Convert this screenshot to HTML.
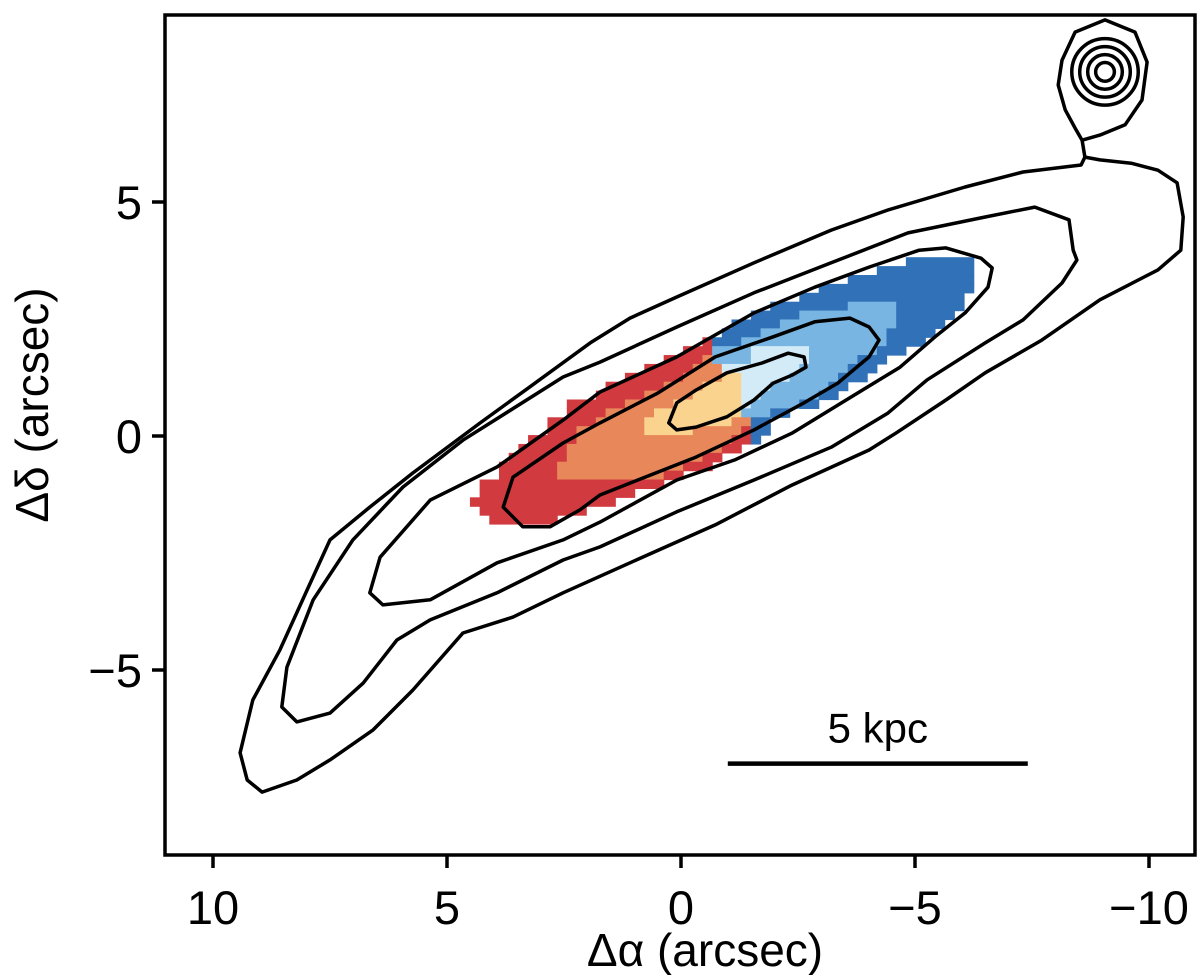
<!DOCTYPE html>
<html><head><meta charset="utf-8"><style>
html,body{margin:0;padding:0;background:#fff;}
svg{display:block;font-family:"Liberation Sans","DejaVu Sans",sans-serif;}
</style></head><body>
<svg id="chart" width="1200" height="975" viewBox="0 0 1200 975" xmlns="http://www.w3.org/2000/svg">
<g id="cells"></g>
<g id="contours" fill="none" stroke="#000" stroke-width="3.5" stroke-linejoin="round"></g>
<g id="axes"></g>
</svg>
<script>
const xTicks = [10, 5, 0, -5, -10];
const yTicks = [5, 0, -5];
const xTickLabels = ["10", "5", "0", "\u22125", "\u221210"];
const yTickLabels = ["5", "0", "\u22125"];
// velocity grid: origin (arcsec), cell size, rows top->bottom, segments "ColorStart-End"
const gridOrigin = [4.51, 3.82];
const gridCellX = 0.207;
const gridCellY = 0.19;
const gridRows = [
"D45-51","D42-51","D39-51","D36-51","D34-50",
"D31-38 M39-43 D44-50","D29-33 M34-43 D44-49","D27-31 M32-43 D44-48","D26-29 M30-42 D43-47",
"R24-24 D25-27 M28-42 D43-46","R22-24 M25-28 L29-34 M35-41 D42-44",
"R20-23 O24-24 M25-28 L29-34 M35-39 D40-42","R18-22 O23-25 L26-33 M34-38 D39-41",
"R16-21 O22-25 Y26-27 L28-32 M33-37 D38-40","R14-19 O20-23 Y24-27 L28-30 M31-36 D37-38",
"R13-17 O18-22 Y23-27 L28-29 M30-35 D36-37","R10-15 O16-20 Y21-27 L28-28 M29-33 D34-35",
"R10-13 O14-18 Y19-27 M28-30 D31-32","R8-12 O13-17 Y18-26 O27-28 D29-30",
"R8-10 O11-17 Y18-22 O23-27 R28-28 D29-30","R6-10 O11-26 R27-28 D29-29",
"R5-9 O10-25 R26-27","R4-9 O10-23 R24-25","R3-8 O9-21 R22-24","R3-8 O9-19 R20-21",
"R1-19","R1-16","R0-14","R1-11","R2-8"
];
const velColors = {R:"#d13b40",O:"#e8885a",Y:"#fad38e",L:"#d3ebf7",M:"#78b5e2",D:"#3071b8"};
// contour levels (arcsec [ra, dec])
const contour1 = [[8.95,-7.61],[9.27,-7.35],[9.42,-6.77],[9.15,-5.64],[8.57,-4.57],[7.99,-3.29],[7.50,-2.22],[6.65,-1.52],[5.73,-0.79],[4.29,0.28],[3.23,1.05],[1.94,1.99],[1.09,2.52],[0.09,2.97],[-1.56,3.70],[-3.21,4.40],[-4.42,4.83],[-6.07,5.32],[-7.31,5.64],[-8.55,5.79],[-8.63,5.96],[-8.95,5.90],[-9.62,5.83],[-10.19,5.68],[-10.60,5.41],[-10.73,4.68],[-10.68,3.97],[-10.19,3.55],[-8.95,2.91],[-7.71,2.05],[-6.50,1.35],[-5.66,0.77],[-4.59,0.06],[-4.02,-0.30],[-2.37,-1.05],[-0.73,-1.90],[1.09,-2.71],[2.52,-3.35],[3.59,-3.87],[4.66,-4.21],[5.73,-5.43],[6.58,-6.28],[7.50,-6.92],[8.21,-7.35]];
const contour2 = [[8.21,-6.11],[8.53,-5.79],[8.42,-4.94],[7.86,-3.50],[7.01,-2.22],[5.94,-1.09],[4.66,-0.09],[2.52,1.26],[1.73,1.58],[0.09,2.33],[-1.56,3.06],[-3.21,3.70],[-4.85,4.34],[-6.50,4.68],[-7.56,4.89],[-8.29,4.62],[-8.38,3.97],[-8.46,3.76],[-8.14,3.27],[-7.31,2.48],[-6.50,1.99],[-5.26,1.20],[-4.42,0.49],[-3.21,-0.24],[-1.56,-0.94],[0.09,-1.62],[1.73,-2.37],[2.52,-2.65],[3.93,-3.35],[5.36,-3.93],[6.07,-4.36],[6.79,-5.28],[7.50,-5.92]];
const contour3 = [[6.37,-3.61],[6.65,-3.35],[6.43,-2.59],[5.36,-1.37],[3.93,-0.66],[2.52,0.34],[1.73,0.94],[0.09,1.69],[-1.56,2.63],[-2.86,3.18],[-4.02,3.61],[-5.09,3.97],[-5.66,4.02],[-6.41,3.80],[-6.65,3.59],[-6.56,3.18],[-6.07,2.63],[-5.43,2.12],[-4.68,1.47],[-3.53,0.77],[-2.37,0.06],[-1.15,-0.51],[0.09,-0.94],[1.73,-1.84],[2.52,-2.22],[3.93,-2.71],[5.36,-3.50]];
const contour4 = [[3.38,-1.94],[3.80,-1.52],[3.59,-0.88],[2.52,-0.15],[1.73,0.28],[0.49,0.92],[-0.73,1.69],[-1.97,2.12],[-2.86,2.44],[-3.61,2.52],[-4.02,2.33],[-4.23,2.05],[-4.02,1.69],[-3.35,1.13],[-2.63,0.71],[-1.56,0.13],[-0.32,-0.45],[0.92,-0.94],[1.73,-1.26],[2.16,-1.58],[2.80,-1.94]];
const contour5 = [[0.26,0.28],[0.09,0.71],[-0.32,0.98],[-0.98,1.35],[-1.73,1.56],[-2.29,1.77],[-2.63,1.69],[-2.67,1.47],[-2.37,1.30],[-1.97,1.13],[-1.56,0.77],[-0.98,0.41],[-0.32,0.19],[0.09,0.13]];
const starOuter = [[-8.14,8.03],[-8.42,8.63],[-9.06,8.89],[-9.70,8.63],[-9.96,7.99],[-9.85,7.18],[-9.49,6.65],[-8.95,6.43],[-8.57,6.32],[-8.42,6.58],[-8.21,6.97],[-8.06,7.50]];
const starTail = [[-8.57,6.32],[-8.63,5.96]];
const starCenter = [-9.06, 7.78];
const starRadii = [0.2, 0.37, 0.54, 0.71];
const scaleBar = [-1.0, -7.41, -7.0];
const scaleLabel = "5 kpc";

const X0 = 681, Y0 = 436, PX = 46.8;
const sx = v => X0 - v * PX;
const sy = v => Y0 - v * PX;
const NS = "http://www.w3.org/2000/svg";
function mk(tag, parent, attrs){const e=document.createElementNS(NS,tag);for(const k in attrs)e.setAttribute(k,attrs[k]);parent.appendChild(e);return e;}

const cells = document.getElementById('cells');
gridRows.forEach((row, r) => {
  row.split(' ').forEach(seg => {
    const c = seg[0]; const [a,b] = seg.slice(1).split('-').map(Number);
    const x1 = sx(gridOrigin[0] - a*gridCellX), x2 = sx(gridOrigin[0] - (b+1)*gridCellX);
    const y1 = sy(gridOrigin[1] - r*gridCellY), y2 = sy(gridOrigin[1] - (r+1)*gridCellY);
    const el = mk('rect', cells, {x:x1, y:y1, width:x2-x1+0.6, height:y2-y1+0.6, fill:velColors[c]});
    
    
  });
});

const cg = document.getElementById('contours');
const pts = arr => arr.map(p => sx(p[0]).toFixed(1)+','+sy(p[1]).toFixed(1)).join(' ');
[contour1,contour2,contour3,contour4,contour5,starOuter].forEach((c,i) => {
  const el = mk('polygon', cg, {points: pts(c)});
  
  
});
const tail = mk('polyline', cg, {points: pts(starTail)});


starRadii.forEach(rr => {
  const el = mk('circle', cg, {cx: sx(starCenter[0]), cy: sy(starCenter[1]), r: rr*PX});
  
  
});

const ax = document.getElementById('axes');
const frame = mk('rect', ax, {x:165, y:15, width:1030, height:840, fill:'none', stroke:'#000', 'stroke-width':3.5});


xTicks.forEach((t,i) => {
  const tk = mk('line', ax, {x1:sx(t), x2:sx(t), y1:855, y2:868, stroke:'#000', 'stroke-width':3.5});
  
  
  const tl = mk('text', ax, {x:sx(t), y:924, 'font-size':47, 'text-anchor':'middle'});
  tl.textContent = xTickLabels[i];
  
  
});
yTicks.forEach((t,i) => {
  const tk = mk('line', ax, {x1:152, x2:165, y1:sy(t), y2:sy(t), stroke:'#000', 'stroke-width':3.5});
  
  
  const tl = mk('text', ax, {x:142, y:sy(t)+17, 'font-size':47, 'text-anchor':'end'});
  tl.textContent = yTickLabels[i];
  
  
});
const xt = mk('text', ax, {x:705, y:966, 'font-size':46, 'text-anchor':'middle'});
xt.textContent = 'Δα (arcsec)';


const yt = mk('text', ax, {x:0, y:0, 'font-size':46, 'text-anchor':'middle', transform:'translate(48,405) rotate(-90)'});
yt.textContent = 'Δδ (arcsec)';


const sb = mk('line', ax, {x1:sx(scaleBar[0]), x2:sx(scaleBar[1]), y1:sy(scaleBar[2]), y2:sy(scaleBar[2]), stroke:'#000', 'stroke-width':4.5});


const sl = mk('text', ax, {x:(sx(scaleBar[0])+sx(scaleBar[1]))/2, y:sy(scaleBar[2])-21, 'font-size':42, 'text-anchor':'middle'});
sl.textContent = scaleLabel;


</script>
</body></html>
